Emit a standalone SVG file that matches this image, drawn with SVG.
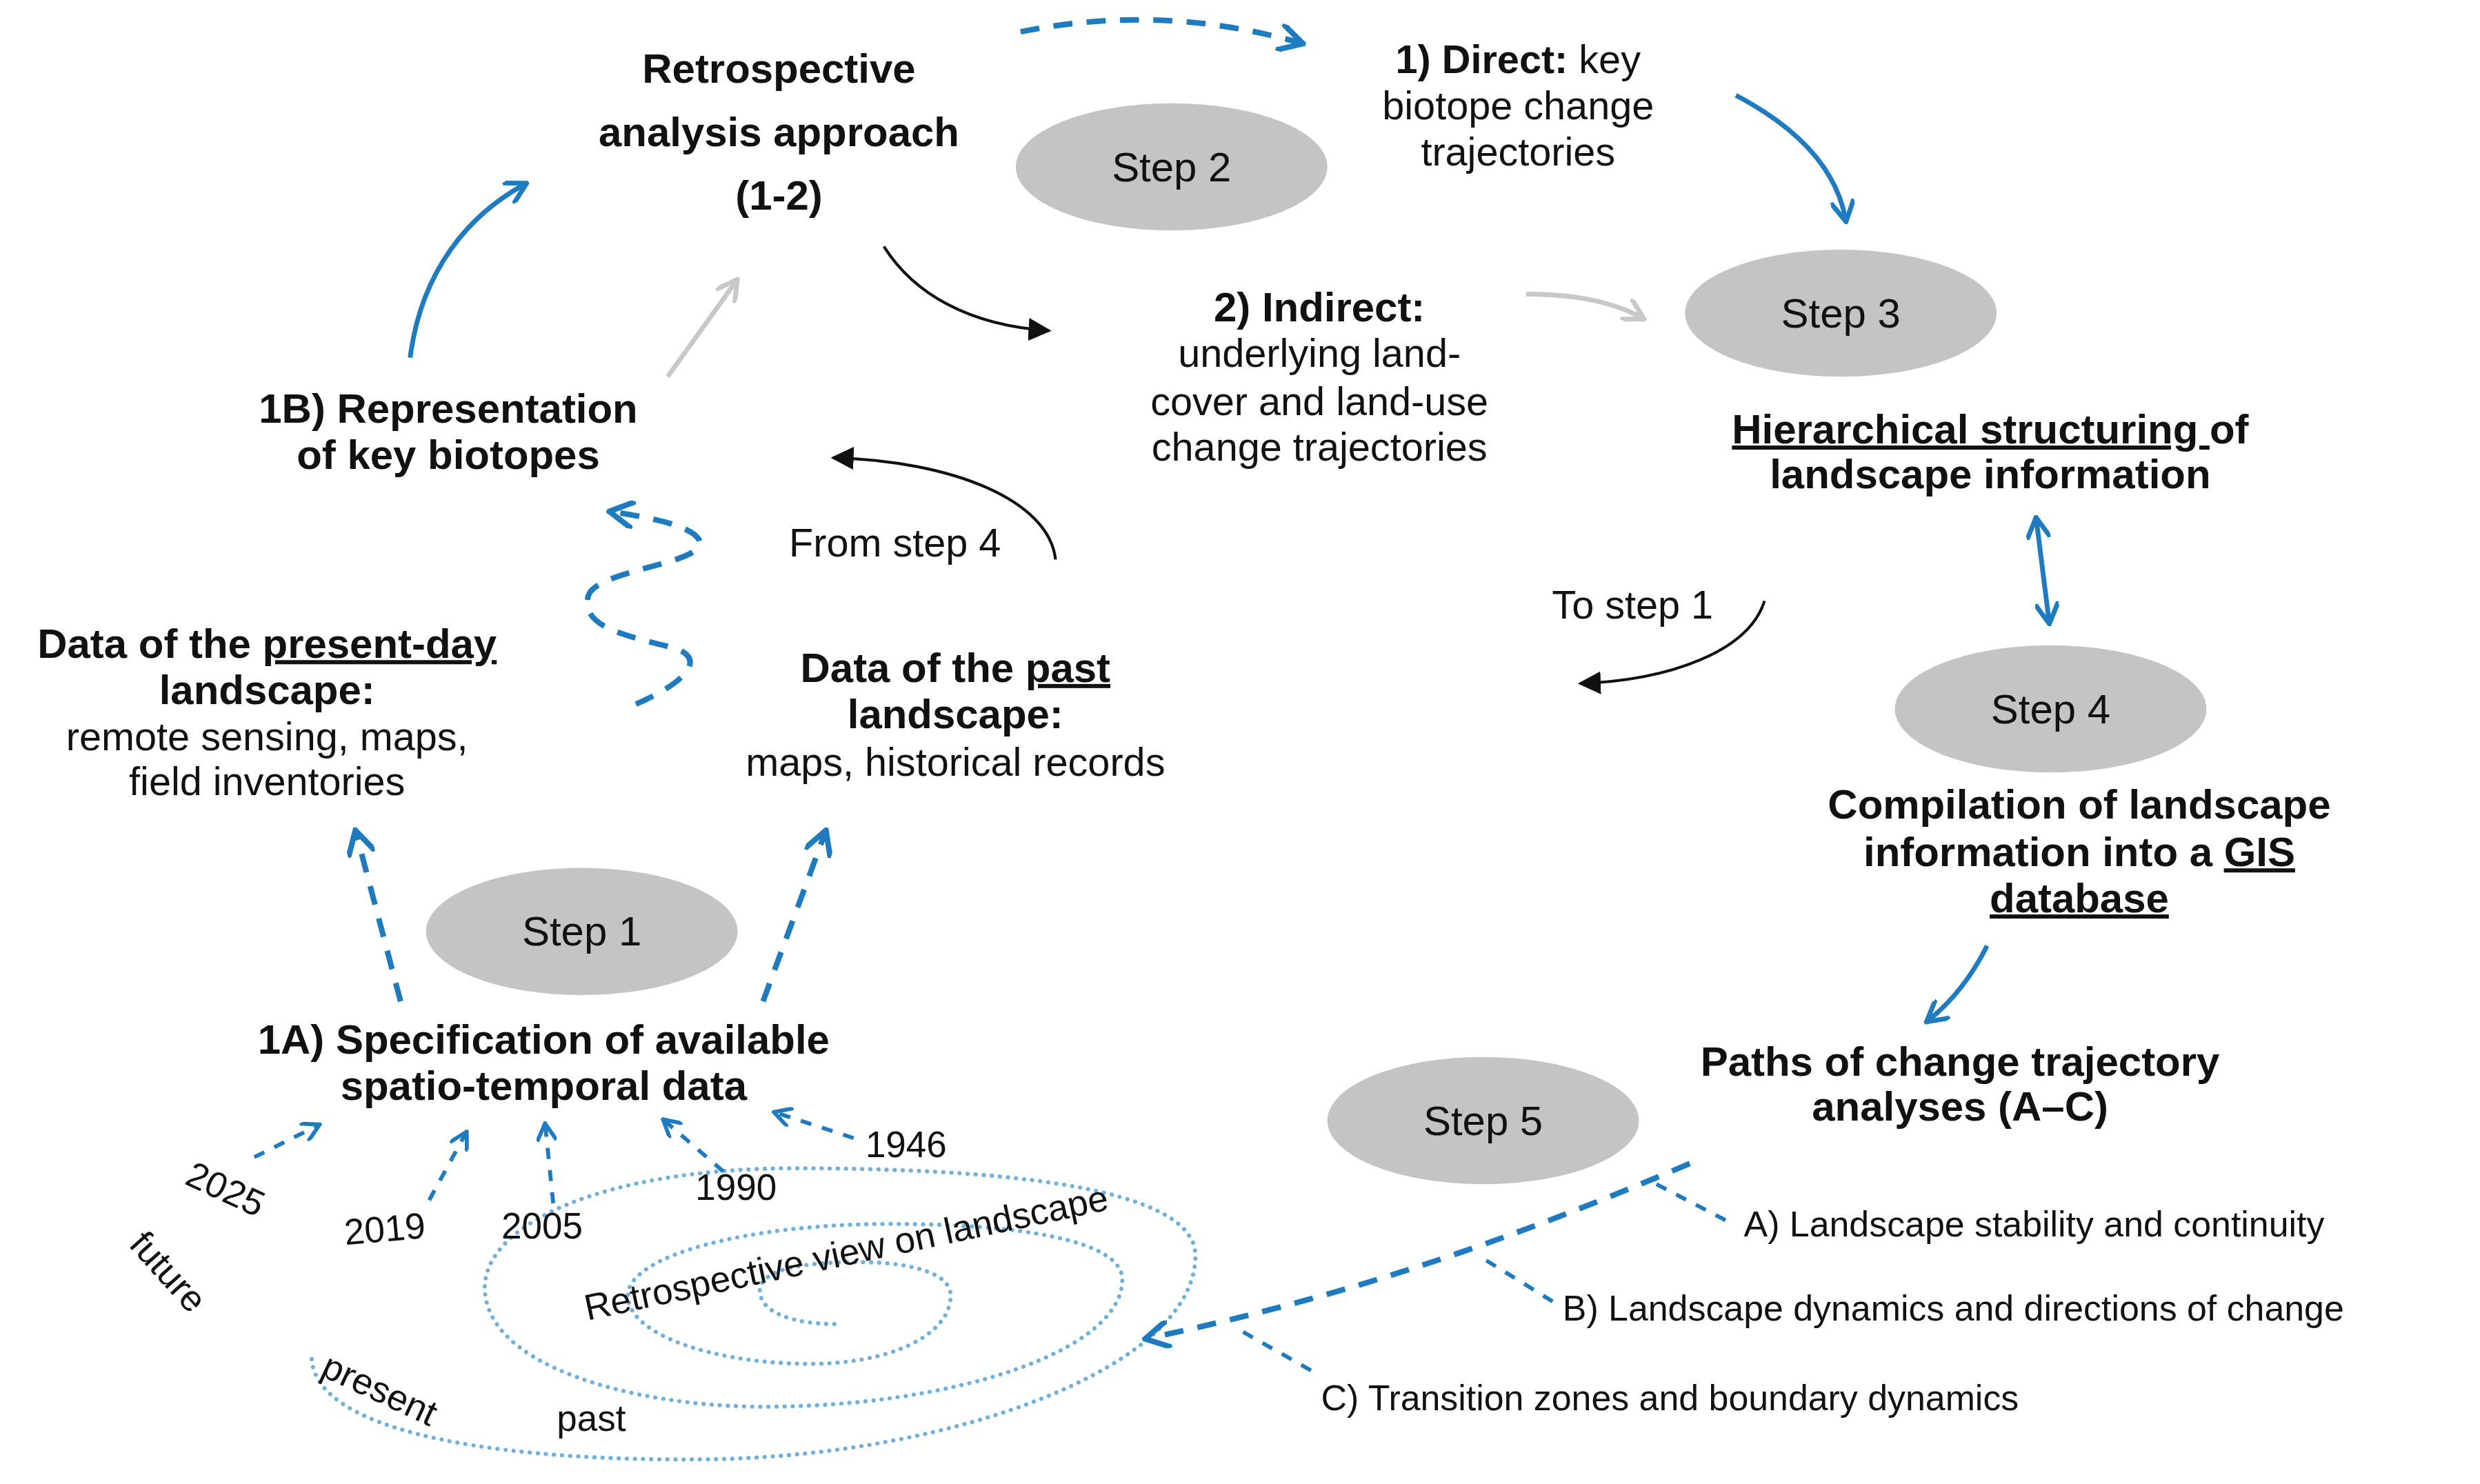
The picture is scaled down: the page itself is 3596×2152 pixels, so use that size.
<svg xmlns="http://www.w3.org/2000/svg" width="3596" height="2152" viewBox="0 0 3596 2152">
<style>
text{font-family:"Liberation Sans",Arial,sans-serif;fill:#111}
.b{font-weight:bold;font-size:26px;text-anchor:middle}
.r{font-size:25px;text-anchor:middle}
.s{font-size:22.5px}
.y{font-size:23px;text-anchor:middle}
.st{font-size:26px;text-anchor:middle}
.u{text-decoration:underline}
.ell{fill:#c4c4c4}
.bl{fill:none;stroke:#1f7bbf;stroke-width:3}
.bd{fill:none;stroke:#1f7bbf;stroke-width:3.5;stroke-dasharray:12 9}
.bds{fill:none;stroke:#1f7bbf;stroke-width:2.5;stroke-dasharray:7 7}
.gr{fill:none;stroke:#c8c8c8;stroke-width:3}
.bk{fill:none;stroke:#111;stroke-width:1.8}
.dot{fill:none;stroke:#6fb0dc;stroke-width:2.6;stroke-dasharray:0.1 5;stroke-linecap:round}
</style>
<defs>
<marker id="ab" viewBox="0 0 10 10" refX="8" refY="5" markerWidth="5" markerHeight="5" orient="auto-start-reverse" markerUnits="strokeWidth"><path d="M0,0 L9,5 L0,10" fill="none" stroke="#1f7bbf" stroke-width="2"/></marker>
<marker id="ag" viewBox="0 0 10 10" refX="8" refY="5" markerWidth="5" markerHeight="5" orient="auto" markerUnits="strokeWidth"><path d="M0,0 L9,5 L0,10" fill="none" stroke="#c8c8c8" stroke-width="2"/></marker>
<marker id="ak" viewBox="0 0 10 10" refX="9" refY="5" markerWidth="8" markerHeight="8" orient="auto" markerUnits="strokeWidth"><path d="M0,0 L10,5 L0,10 Z" fill="#111"/></marker>
</defs>
<rect width="3596" height="2152" fill="#fff"/>
<g transform="scale(2.305)">
<g id="spiral"><path class="dot" d="M196,855 C200,905 330,920 450,918 C600,915 752,860 752,790 C752,745 620,735 500,735 C380,735 305,770 305,810 C305,860 400,885 480,885 C600,885 706,850 706,805 C706,780 640,770 560,770 C470,770 395,790 395,815 C395,840 450,858 510,858 C560,858 598,840 598,815 C598,800 570,794 540,794 C500,794 478,800 478,812 C478,826 500,833 525,833"/></g>
<g id="connectors">
<path class="bd" d="M642,20 Q730,2 818,27" marker-end="url(#ab)"/>
<path class="bd" d="M400,443 C430,430 445,415 425,408 C395,400 365,395 370,375 C375,358 445,355 440,340 C435,330 405,325 385,322" marker-end="url(#ab)"/>
<path class="bd" d="M252,630 L224,524" marker-end="url(#ab)"/>
<path class="bd" d="M480,630 L519,524" marker-end="url(#ab)"/>
<path class="bds" d="M160,728 L200,708" marker-end="url(#ab)"/>
<path class="bds" d="M270,755 L293,713" marker-end="url(#ab)"/>
<path class="bds" d="M348,757 L343,708" marker-end="url(#ab)"/>
<path class="bds" d="M455,737 L418,705" marker-end="url(#ab)"/>
<path class="bds" d="M537,716 L488,700" marker-end="url(#ab)"/>
<path class="bd" d="M1063,732 C950,780 850,815 722,842" marker-end="url(#ab)"/>
<path class="bds" d="M1042,745 L1090,770"/>
<path class="bds" d="M935,793 L982,822"/>
<path class="bds" d="M782,838 L828,864"/>
<path class="bl" d="M258,225 C265,170 295,135 330,116" marker-end="url(#ab)"/>
<path class="gr" d="M420,237 L463,177" marker-end="url(#ag)"/>
<path class="bk" d="M556,155 C575,185 610,205 660,208" marker-end="url(#ak)"/>
<path class="gr" d="M960,185 C990,185 1015,190 1033,200" marker-end="url(#ag)"/>
<path class="bl" d="M1092,60 C1130,80 1155,105 1161,138" marker-end="url(#ab)"/>
<path class="bl" d="M1281,327 L1289,391" marker-start="url(#ab)" marker-end="url(#ab)"/>
<path class="bk" d="M664,352 C660,315 600,290 524,288" marker-end="url(#ak)"/>
<path class="bk" d="M1110,378 C1100,410 1050,428 994,430" marker-end="url(#ak)"/>
<path class="bl" d="M1250,595 C1240,615 1228,630 1213,642" marker-end="url(#ab)"/>
</g>
<g id="step1"><ellipse class="ell" cx="366" cy="586" rx="98" ry="40"/><text class="st" x="366" y="595">Step 1</text></g>
<g id="step2"><ellipse class="ell" cx="737" cy="105" rx="98" ry="40"/><text class="st" x="737" y="114">Step 2</text></g>
<g id="step3"><ellipse class="ell" cx="1158" cy="197" rx="98" ry="40"/><text class="st" x="1158" y="206">Step 3</text></g>
<g id="step4"><ellipse class="ell" cx="1290" cy="446" rx="98" ry="40"/><text class="st" x="1290" y="455">Step 4</text></g>
<g id="step5"><ellipse class="ell" cx="933" cy="705" rx="98" ry="40"/><text class="st" x="933" y="714">Step 5</text></g>
<g id="retro"><text class="b" x="490" y="52">Retrospective</text><text class="b" x="490" y="92">analysis approach</text><text class="b" x="490" y="132">(1-2)</text></g>
<g id="direct"><text class="r" x="955" y="46"><tspan font-weight="bold">1) Direct:</tspan> key</text><text class="r" x="955" y="75">biotope change</text><text class="r" x="955" y="104">trajectories</text></g>
<g id="indirect"><text class="b" x="830" y="202">2) Indirect:</text><text class="r" x="830" y="231">underlying land-</text><text class="r" x="830" y="261">cover and land-use</text><text class="r" x="830" y="290">change trajectories</text></g>
<g id="hier"><text class="b" x="1252" y="279"><tspan class="u">Hierarchical structuring </tspan>of</text><text class="b" x="1252" y="307">landscape information</text></g>
<g id="rep1b"><text class="b" x="282" y="266">1B) Representation</text><text class="b" x="282" y="295">of key biotopes</text></g>
<g id="from4"><text class="r" x="563" y="350">From step 4</text></g>
<g id="to1"><text class="r" x="1027" y="389">To step 1</text></g>
<g id="present"><text class="b" x="168" y="414">Data of the <tspan class="u">present-day</tspan></text><text class="b" x="168" y="443">landscape:</text><text class="r" x="168" y="472">remote sensing, maps,</text><text class="r" x="168" y="500">field inventories</text></g>
<g id="past"><text class="b" x="601" y="429">Data of the <tspan class="u">past</tspan></text><text class="b" x="601" y="458">landscape:</text><text class="r" x="601" y="488">maps, historical records</text></g>
<g id="compile"><text class="b" x="1308" y="515">Compilation of landscape</text><text class="b" x="1308" y="545">information into a <tspan class="u">GIS</tspan></text><text class="b" x="1308" y="574"><tspan class="u">database</tspan></text></g>
<g id="spec1a"><text class="b" x="342" y="663">1A) Specification of available</text><text class="b" x="342" y="692">spatio-temporal data</text></g>
<g id="paths"><text class="b" x="1233" y="677">Paths of change trajectory</text><text class="b" x="1233" y="705">analyses (A–C)</text></g>
<g id="pA"><text class="s" x="1097" y="778">A) Landscape stability and continuity</text></g>
<g id="pB"><text class="s" x="983" y="831">B) Landscape dynamics and directions of change</text></g>
<g id="pC"><text class="s" x="831" y="887">C) Transition zones and boundary dynamics</text></g>
<g id="labels">
<text class="y" transform="translate(142,748) rotate(25)" y="8">2025</text>
<text class="y" transform="translate(242,773) rotate(-5)" y="8">2019</text>
<text class="y" x="341" y="779">2005</text>
<text class="y" x="463" y="755">1990</text>
<text class="y" x="570" y="728">1946</text>
<text class="y" transform="translate(106,800) rotate(48)" y="8">future</text>
<text class="y" transform="translate(239,874) rotate(25)" y="8">present</text>
<text class="y" x="372" y="900">past</text>
<text class="y" font-size="25" transform="translate(532,787) rotate(-12)" y="9">Retrospective view on landscape</text>
</g>
</g>
</svg>
